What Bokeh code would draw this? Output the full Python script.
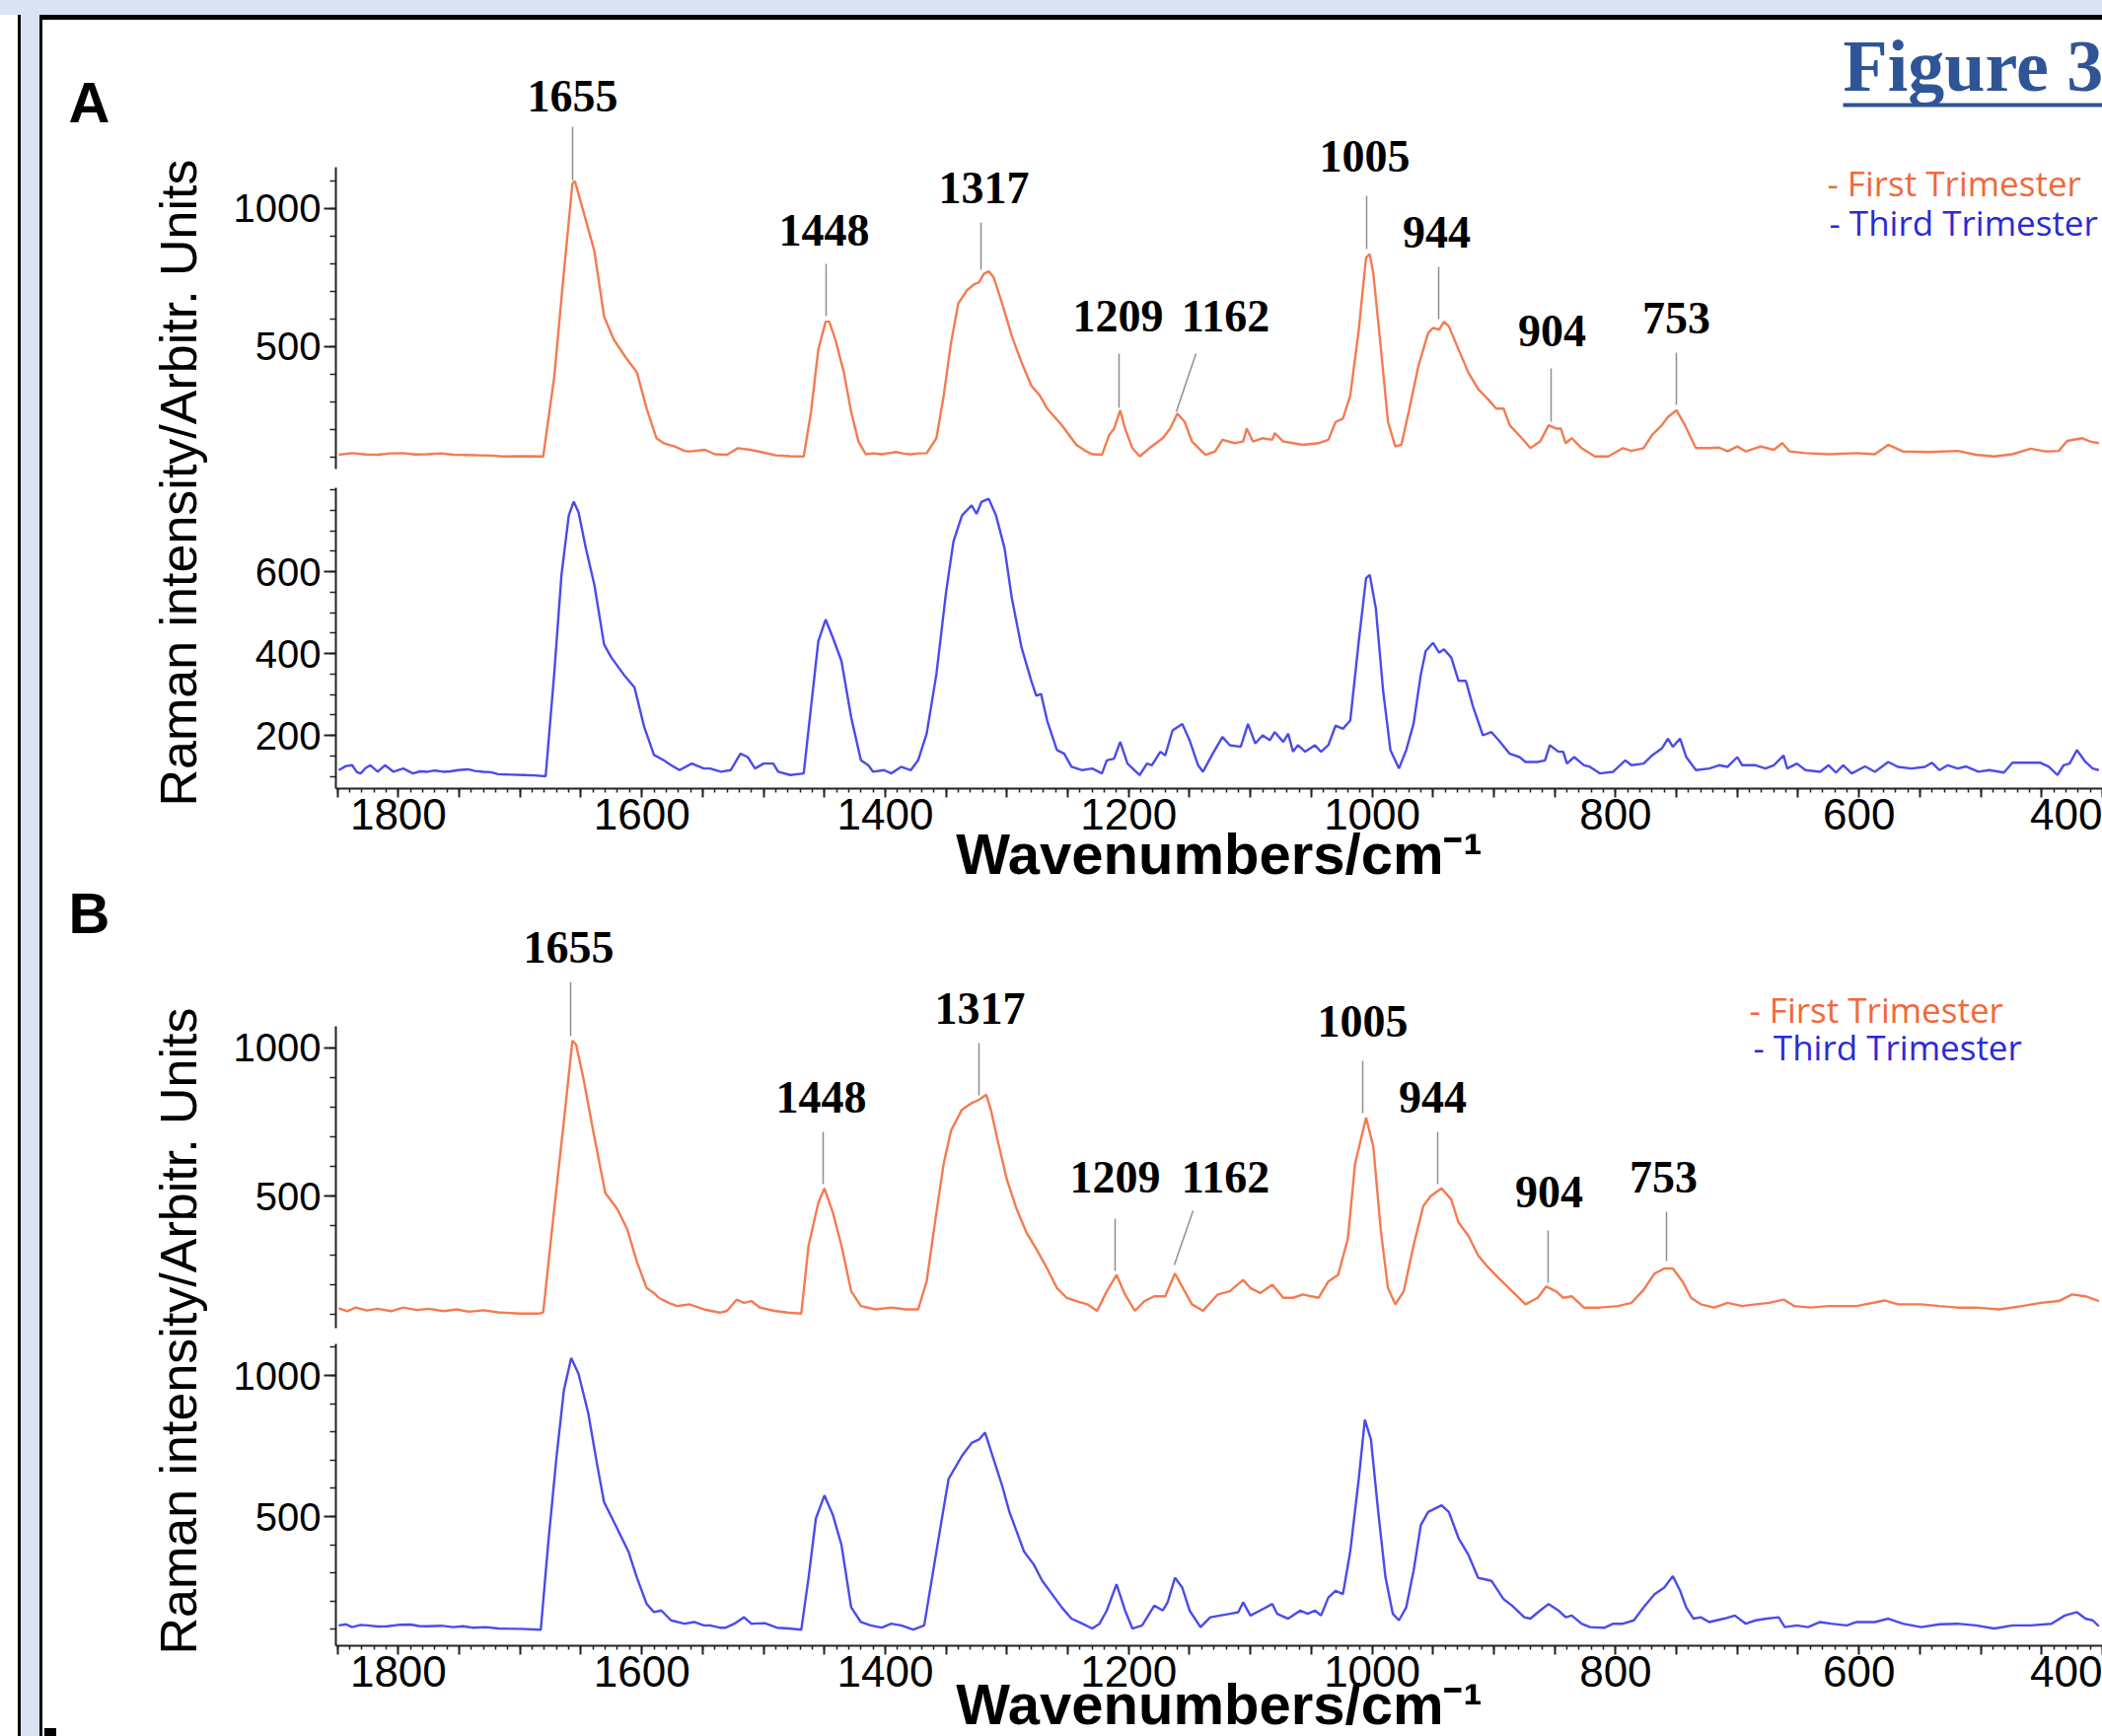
from math import pi
from bokeh.plotting import figure
from bokeh.models import Range1d, LinearAxis, FixedTicker, ColumnDataSource
from bokeh.layouts import column, row
from bokeh.embed import file_html
from bokeh.resources import INLINE
from bokeh.core.properties import value

# ---------------- DATA ----------------
PEAKS = ["1655", "1448", "1317", "1209", "1162", "1005", "944", "904", "753"]
SERIES = ["- First Trimester", "- Third Trimester"]
X_LABELLED = [400, 600, 800, 1000, 1200, 1400, 1600, 1800]

a_first_wn = [1849,1838,1827,1817,1806,1796,1786,1776,1765,1755,1744,1734,1724,1714,1697,1681,1672,1664,1657,1655,1648,1639,1631,1623,1613,1604,1596,1588,1582,1573,1565,1560,1548,1540,1530,1521,1511,1502,1490,1478,1467,1461,1455,1449,1446,1441,1434,1428,1422,1416,1410,1403,1397,1391,1385,1379,1372,1366,1358,1352,1346,1340,1333,1327,1323,1319,1315,1311,1304,1296,1288,1280,1273,1267,1255,1243,1236,1230,1222,1216,1212,1207,1203,1197,1191,1183,1172,1166,1160,1154,1148,1137,1129,1123,1113,1106,1103,1098,1090,1082,1080,1073,1065,1057,1044,1036,1030,1024,1018,1011,1005,1002,999,993,987,981,976,970,962,954,950,945,941,937,929,921,913,904,898,892,887,877,870,862,855,849,845,841,836,828,817,806,794,787,777,770,762,757,750,743,738,734,723,715,708,700,693,681,670,663,657,644,625,602,587,576,564,542,519,504,489,474,459,447,436,429,417,410,403]
a_first = [107,113,108,107,112,113,108,109,112,107,106,105,104,101,102,101,387,768,1089,1098,988,845,607,524,458,405,274,167,149,137,121,119,125,109,107,131,125,117,105,102,101,262,488,589,589,524,405,262,155,109,112,109,113,117,111,109,112,113,167,321,512,655,702,724,732,762,771,750,655,536,441,357,321,274,214,143,122,109,107,179,202,268,202,131,101,131,167,202,256,226,155,107,119,161,149,155,202,155,167,161,185,155,149,143,149,161,226,238,321,559,821,833,762,500,226,137,143,262,429,548,566,560,589,572,488,405,345,304,274,274,214,167,131,155,214,202,202,149,167,131,101,101,131,121,131,179,214,244,268,214,167,131,131,133,119,137,119,137,125,149,119,113,109,113,109,143,119,117,121,107,101,109,129,119,121,157,167,155,149]

a_third_wn = [1849,1843,1838,1834,1831,1827,1823,1817,1811,1804,1796,1788,1782,1776,1770,1763,1757,1751,1743,1737,1730,1724,1718,1707,1697,1688,1679,1672,1666,1660,1656,1652,1646,1639,1631,1625,1615,1606,1598,1590,1582,1576,1569,1559,1549,1544,1535,1527,1519,1513,1507,1500,1492,1488,1478,1467,1461,1455,1449,1443,1436,1428,1420,1414,1410,1401,1395,1387,1379,1373,1366,1358,1350,1344,1337,1329,1325,1321,1315,1309,1302,1296,1288,1280,1276,1272,1267,1259,1253,1247,1238,1230,1222,1218,1212,1207,1201,1191,1185,1181,1174,1170,1164,1156,1150,1143,1139,1131,1123,1117,1108,1102,1096,1090,1084,1080,1073,1069,1065,1061,1055,1047,1042,1036,1030,1024,1018,1011,1005,1002,997,991,985,978,972,966,960,956,950,945,941,935,929,923,917,909,902,896,887,879,874,864,858,854,847,843,840,834,826,821,813,802,792,787,777,770,762,757,753,747,742,734,723,715,708,700,696,685,677,670,662,659,651,644,632,625,619,613,606,595,587,576,568,557,546,540,534,527,519,512,502,493,481,474,466,451,444,437,432,427,421,414,408,403]
a_third = [115,125,127,110,107,120,127,111,127,111,119,107,112,111,114,111,112,115,117,113,111,110,105,104,103,102,100,349,592,737,771,745,657,568,422,390,349,317,220,152,139,127,115,131,119,119,111,115,155,147,119,131,131,111,103,107,269,430,483,438,382,244,139,127,111,115,107,123,115,139,204,349,551,673,737,762,741,770,778,737,657,535,414,333,297,301,236,164,155,123,115,119,107,139,143,184,131,103,131,127,160,151,212,228,188,127,111,155,196,176,172,228,180,200,188,208,184,204,160,176,160,176,160,176,224,216,236,430,584,592,511,309,164,119,164,228,349,406,426,402,410,390,333,333,269,200,208,188,155,147,135,135,139,176,160,160,131,147,127,123,107,111,139,127,131,151,168,192,172,192,147,115,119,127,123,147,127,127,119,127,151,119,131,115,111,127,109,127,107,124,111,135,123,119,123,133,115,127,119,124,111,115,109,133,133,133,123,103,127,131,164,135,119,115]

b_first_wn = [1849,1842,1835,1826,1817,1806,1796,1785,1775,1763,1752,1742,1730,1718,1700,1684,1681,1672,1664,1657,1654,1648,1640,1630,1620,1612,1604,1596,1590,1586,1578,1571,1561,1549,1536,1530,1522,1516,1510,1503,1491,1480,1469,1463,1455,1450,1443,1436,1428,1420,1408,1395,1383,1373,1366,1358,1352,1346,1337,1329,1323,1317,1313,1307,1300,1292,1284,1276,1267,1259,1251,1243,1234,1226,1218,1210,1203,1195,1187,1179,1170,1162,1154,1148,1139,1127,1117,1106,1100,1092,1082,1073,1065,1057,1044,1036,1028,1020,1014,1005,999,993,987,981,974,966,958,952,943,935,929,921,913,905,896,885,874,864,857,849,843,836,826,813,798,787,777,768,760,753,745,738,730,719,708,696,685,674,662,653,640,625,602,579,568,549,534,519,504,485,466,451,436,425,414,403]
b_first = [122,112,124,114,120,112,124,116,120,112,118,110,115,108,104,104,108,455,753,1023,1010,896,720,510,455,388,278,190,173,157,140,129,135,118,107,113,151,140,146,124,113,107,104,333,477,526,444,333,179,129,118,124,118,118,212,444,609,720,791,813,824,841,786,675,554,455,377,322,256,190,157,146,135,113,179,234,168,113,146,162,162,239,179,135,113,168,179,217,190,173,201,157,157,168,157,212,234,355,609,764,665,388,190,135,179,333,466,499,526,488,410,366,300,261,223,179,135,157,195,179,157,162,124,124,129,140,184,239,256,256,212,157,135,124,140,129,135,140,151,129,124,129,129,148,135,135,129,124,124,118,129,140,146,168,162,146]

b_third_wn = [1849,1843,1838,1831,1825,1817,1809,1800,1790,1783,1776,1765,1755,1747,1739,1728,1718,1700,1683,1677,1670,1664,1658,1652,1644,1637,1631,1621,1611,1604,1596,1590,1584,1576,1565,1557,1549,1544,1536,1531,1524,1516,1510,1499,1489,1479,1469,1463,1457,1450,1443,1436,1428,1420,1412,1403,1395,1387,1377,1368,1358,1348,1337,1329,1323,1318,1311,1304,1298,1292,1286,1278,1271,1263,1255,1247,1238,1230,1224,1218,1210,1203,1197,1189,1179,1172,1168,1162,1156,1150,1141,1133,1125,1117,1110,1106,1100,1092,1082,1078,1069,1059,1053,1047,1042,1036,1030,1024,1018,1011,1006,1001,995,989,983,978,972,966,960,954,943,937,929,921,913,907,902,892,885,875,870,862,855,847,841,836,828,821,809,802,794,785,777,768,760,753,747,742,736,730,723,711,702,693,685,676,666,661,651,642,632,623,610,602,587,576,564,549,534,519,504,489,474,459,442,431,421,414,408,403]
b_third = [114,118,108,116,114,110,111,116,117,112,111,113,108,111,106,108,103,102,99,400,715,948,1062,1006,866,691,551,464,376,283,190,161,167,132,120,126,114,114,106,106,120,143,120,122,106,103,99,283,493,575,505,400,178,126,114,106,120,114,99,114,376,633,715,761,773,798,703,610,516,446,376,330,272,225,178,138,120,103,120,167,260,167,103,114,184,167,196,283,248,167,108,143,149,155,161,196,149,167,190,155,138,167,155,167,149,213,237,225,376,633,843,773,516,283,155,132,178,307,470,516,540,516,423,365,283,277,272,207,184,143,138,167,190,167,143,149,120,108,106,120,120,132,178,225,248,289,237,178,138,143,126,138,149,120,132,138,143,108,114,108,126,120,114,126,126,138,120,108,118,120,114,103,114,114,120,149,161,138,132,111]

# ---------------- LAYOUT / STYLE ----------------
W, H = 2131, 1760
LEFT_W = 226          # width of the left strip (panel letters, y titles)
FRAME_L = 340         # x of the y axis lines
X_START, X_END = 1851.35, 400.0   # wavenumbers at the frame's left and right edges
ORANGE, BLUE = "#F47B50", "#4B4BEB"
LEG_COLORS = ["#F0693C", "#2A2AD8"]
AXIS_C = "#222222"
FIG_BLUE = "#2F5597"
SHIFT = 0.33          # measured offset of the rendered baseline, in em
BG = ("linear-gradient(#000,#000) 40px 15px / 2091px 5px no-repeat, "
      "linear-gradient(#000,#000) 40px 15px / 3px 1745px no-repeat, "
      "linear-gradient(#000,#000) 45px 1752px / 12px 8px no-repeat, "
      "linear-gradient(#fff,#fff) 43px 20px / 2088px 1740px no-repeat, "
      "linear-gradient(#000,#000) 18px 15px / 3px 1745px no-repeat, "
      "linear-gradient(#fff,#fff) 0px 15px / 18px 1745px no-repeat, #dae3f3")


def wn_at(xpx):
    return X_START - (xpx - FRAME_L) * (X_START - X_END) / (W - FRAME_L)


def lin(p1, v1, p2, v2):
    k = (v2 - v1) / (p2 - p1)
    return lambda p: v1 + (p - p1) * k


def base(px, size):
    return px - SHIFT * size


oA = lin(210.5, 1000, 350.5, 500)
bA = lin(579, 600, 745, 200)
oB = lin(1061.5, 1000, 1212, 500)
bB = lin(1394, 1000, 1537, 500)


def style_axis(ax, font_size, tick_out, minor_out):
    ax.axis_line_color = AXIS_C
    ax.axis_line_width = 2
    ax.major_tick_line_color = AXIS_C
    ax.major_tick_line_width = 2
    ax.minor_tick_line_color = AXIS_C
    ax.minor_tick_line_width = 1.5
    ax.major_tick_in = 0
    ax.minor_tick_in = 0
    ax.major_tick_out = tick_out
    ax.minor_tick_out = minor_out
    ax.major_label_text_font = "Liberation Sans"
    ax.major_label_text_font_size = font_size
    ax.major_label_text_color = "black"


def spec_fig(top, fbot, bottom_border, ymap, ticks, minor, bounds, xlabel_standoff=None):
    p = figure(frame_width=W - FRAME_L, frame_height=fbot - top,
               min_border_left=FRAME_L - LEFT_W, min_border_right=0,
               min_border_top=0, min_border_bottom=bottom_border,
               x_range=Range1d(X_START, X_END),
               y_range=Range1d(ymap(fbot), ymap(top)),
               x_axis_location=None, y_axis_location=None,
               toolbar_location=None, output_backend="svg",
               background_fill_color=None, border_fill_color=None,
               outline_line_color=None)
    p.grid.visible = False
    yax = LinearAxis(ticker=FixedTicker(ticks=ticks, minor_ticks=minor),
                     bounds=bounds, major_label_standoff=3)
    style_axis(yax, "40px", 12, 6)
    p.add_layout(yax, "left")
    if xlabel_standoff is not None:
        xt = list(range(400, 1851, 50))
        xax = LinearAxis(ticker=FixedTicker(ticks=xt, minor_ticks=list(range(400, 1851, 10))),
                         major_label_overrides={t: "" for t in xt if t not in X_LABELLED},
                         major_label_standoff=1,
                         axis_label="Wavenumbers/cm\u207b\u00b9", axis_label_standoff=xlabel_standoff,
                         axis_label_text_font="Liberation Sans", axis_label_text_font_size="58px",
                         axis_label_text_font_style="bold", axis_label_text_color="black")
        style_axis(xax, "44px", 9, 4)
        p.add_layout(xax, "below")
    return p


def decorate(p, ymap, lab):
    p.segment(x0=[wn_at(v) for v in lab["lx0"]], y0=[ymap(v) for v in lab["ly0"]],
              x1=[wn_at(v) for v in lab["lx1"]], y1=[ymap(v) for v in lab["ly1"]],
              line_color="#8f8f8f", line_width=1.5)
    src = ColumnDataSource(dict(x=[wn_at(v) for v in lab["tx"]],
                                y=[ymap(base(v, 46)) for v in lab["ty"]], t=PEAKS))
    p.text("x", "y", text="t", source=src, text_font=value("Liberation Serif"),
           text_font_style="bold", text_font_size=value("46px"),
           text_align="center", text_baseline="alphabetic", text_color="black")
    p.text(x=[wn_at(v) for v in lab["legx"]], y=[ymap(base(v, 35)) for v in lab["legy"]],
           text=SERIES, text_color=LEG_COLORS, text_font=value("Open Sans"),
           text_font_size=value("35px"), text_align="left", text_baseline="alphabetic")


labA = dict(
    tx=[580, 835, 997, 1133, 1242, 1383, 1456, 1573, 1699],
    ty=[112, 248, 205, 335, 335, 173, 250, 350, 337],
    lx0=[580, 837, 994, 1134, 1212, 1385, 1458, 1572, 1699],
    ly0=[128, 267, 225, 358, 358, 198, 270, 373, 357],
    lx1=[580, 837, 994, 1134, 1192, 1385, 1458, 1572, 1699],
    ly1=[182, 320, 273, 413, 417, 252, 323, 427, 410],
    legx=[1852, 1854], legy=[197, 237])
labB = dict(
    tx=[576, 832, 993, 1130, 1242, 1381, 1452, 1570, 1686],
    ty=[975, 1127, 1037, 1208, 1208, 1050, 1127, 1223, 1208],
    lx0=[578, 834, 992, 1130, 1209, 1381, 1457, 1569, 1689],
    ly0=[995, 1147, 1057, 1235, 1227, 1075, 1147, 1247, 1228],
    lx1=[578, 834, 992, 1130, 1190, 1381, 1457, 1569, 1689],
    ly1=[1050, 1200, 1110, 1288, 1282, 1128, 1200, 1300, 1278],
    legx=[1773, 1777], legy=[1035, 1073])

# panel A
fA1 = spec_fig(0, 484, 0, oA, [500, 1000], list(range(100, 1200, 100)), (54, 1150))
fA1.line(a_first_wn, a_first, line_color=ORANGE, line_width=2.4)
decorate(fA1, oA, labA)
fA1.text(x=[wn_at(1868)], y=[oA(base(91, 74))], text=["Figure 3"], text_font=value("Liberation Serif"),
         text_font_style="bold", text_font_size=value("74px"), text_color=FIG_BLUE,
         text_align="left", text_baseline="alphabetic")
fA1.segment(x0=[wn_at(1868)], y0=[oA(106)], x1=[wn_at(2140)], y1=[oA(106)],
            line_color=FIG_BLUE, line_width=4)

fA2 = spec_fig(484, 799, 104, bA, [200, 400, 600], list(range(100, 850, 50)), (70, 806), -11)
fA2.line(a_third_wn, a_third, line_color=BLUE, line_width=2.4)

# panel B
fB1 = spec_fig(903, 1353, 0, oB, [500, 1000], list(range(100, 1100, 100)), (56, 1073))
fB1.line(b_first_wn, b_first, line_color=ORANGE, line_width=2.4)
decorate(fB1, oB, labB)

fB2 = spec_fig(1353, 1668, 92, bB, [500, 1000], list(range(100, 1200, 100)), (42, 1112), -18)
fB2.line(b_third_wn, b_third, line_color=BLUE, line_width=2.4)

# left strip: panel letters and y-axis titles
left = figure(frame_width=LEFT_W, frame_height=H, min_border=0,
              x_range=Range1d(0, LEFT_W), y_range=Range1d(H, 0),
              x_axis_location=None, y_axis_location=None,
              toolbar_location=None, output_backend="svg",
              background_fill_color=None, border_fill_color=None, outline_line_color=None)
left.grid.visible = False
left.text(x=[69, 69], y=[base(122, 58), base(944, 58)], text=["A", "B"],
          text_font=value("Liberation Sans"), text_font_style="bold",
          text_font_size=value("58px"), text_color="black",
          text_align="left", text_baseline="alphabetic")
left.text(x=[198 - SHIFT * 52, 198 - SHIFT * 52], y=[489, 1349],
          text=["Raman intensity/Arbitr. Units"] * 2,
          angle=pi / 2, text_font=value("Liberation Sans"), text_font_size=value("52px"),
          text_color="black", text_align="center", text_baseline="alphabetic")

root = row(left, column(fA1, fA2, fB1, fB2), styles={"background": BG})
open("out.html", "w").write(file_html(root, INLINE))
